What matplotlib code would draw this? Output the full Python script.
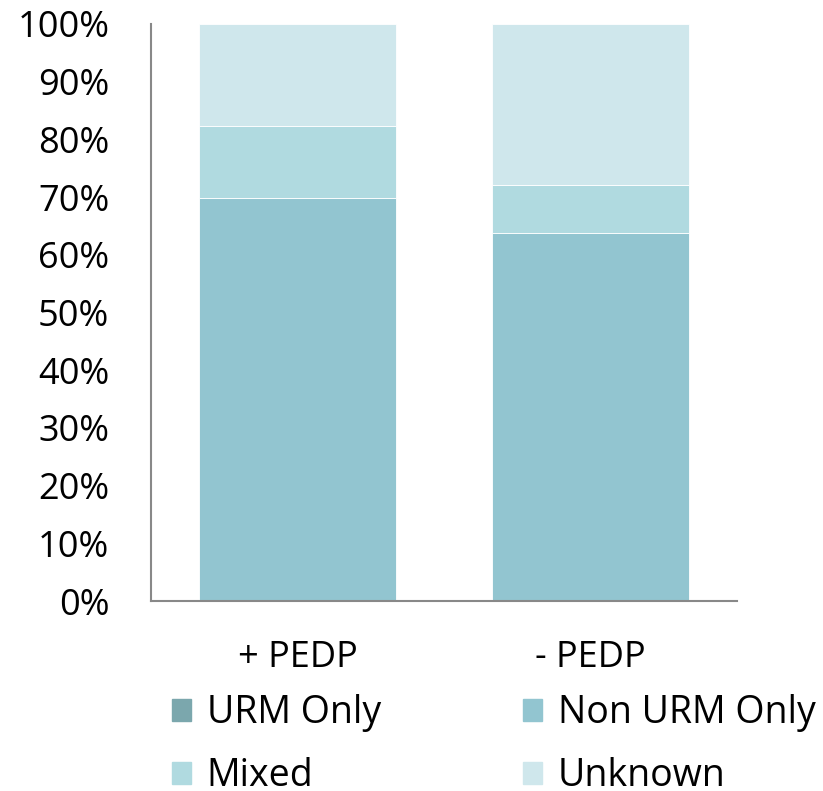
import numpy as np
import matplotlib.pyplot as plt
from matplotlib.patches import Patch
from matplotlib.ticker import PercentFormatter

plt.rcParams['font.family'] = ['Open Sans', 'DejaVu Sans']

groups = ['+ PEDP', '- PEDP']
series = ['URM Only', 'Non URM Only', 'Mixed', 'Unknown']
urm_only = [0.0, 0.0]
non_urm_only = [69.8, 63.8]
mixed = [12.5, 8.3]
unknown = [17.7, 27.9]
colors = ['#7ba7ad', '#92c5d0', '#b0dae0', '#cfe7ec']

fig = plt.figure(figsize=(8.23, 7.91), dpi=100)
ax = fig.add_axes([0.1835, 0.2402, 0.712, 0.7295])

x = np.arange(len(groups))
bottom = np.zeros(len(groups))
for vals, c in zip([urm_only, non_urm_only, mixed, unknown], colors):
    ax.bar(x, vals, width=0.675, bottom=bottom, color=c, edgecolor='white', linewidth=0.6)
    bottom += np.array(vals)

ax.set_xlim(-0.5, 1.5)
ax.set_ylim(0, 100)
ax.set_yticks(np.arange(0, 101, 10))
ax.yaxis.set_major_formatter(PercentFormatter(decimals=0))
ax.set_xticks(x)
ax.set_xticklabels(groups)
ax.tick_params(axis='both', length=0, labelsize=26, colors='black')
ax.tick_params(axis='y', pad=30)
ax.tick_params(axis='x', pad=28)
for s in ['top', 'right']:
    ax.spines[s].set_visible(False)
for s in ['left', 'bottom']:
    ax.spines[s].set_color('#888888')
    ax.spines[s].set_linewidth(1.5)

handles = [Patch(color=c) for c in colors]
order = [0, 2, 1, 3]
fig.legend([handles[i] for i in order], [series[i] for i in order],
           ncol=2, loc='upper left', bbox_to_anchor=(0.209, 0.122),
           frameon=False, fontsize=27, handlelength=0.5, handleheight=0.5,
           handletextpad=0.42, columnspacing=3.8, labelspacing=0.66,
           borderaxespad=0, borderpad=0)

fig.savefig('out.png', dpi=100)
